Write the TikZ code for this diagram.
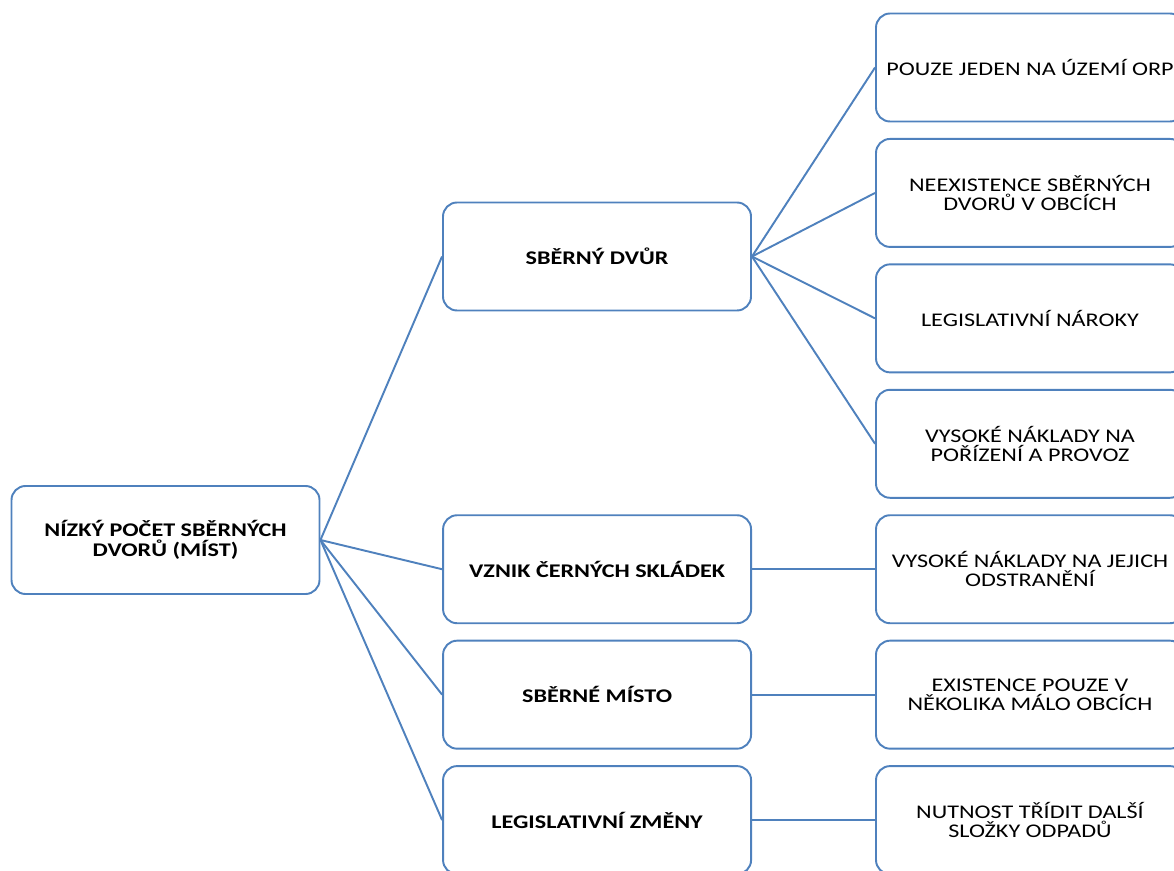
\documentclass[tikz,border=0pt]{standalone}
\usepackage{fontspec}
\setmainfont{Carlito}[FakeStretch=1.25]
\usetikzlibrary{positioning}
\definecolor{boxblue}{RGB}{79,129,189}

\begin{document}
\begin{tikzpicture}[
    node distance=0.31cm and 2.46cm,
    box/.style={draw=boxblue, line width=1.1pt, rounded corners=8pt, align=center, minimum height=2.16cm, minimum width=6.16cm, font=\fontsize{11}{11}\selectfont},
    mainbox/.style={box, font=\fontsize{11}{11}\selectfont\bfseries},
    link/.style={draw=boxblue, line width=1.1pt}
  ]
    \useasboundingbox (0,0) rectangle (23.48,-17.42);
    \begin{scope}
    \clip (0,0) rectangle (23.48,-17.42);
    % root
    \node[mainbox] (root) at (3.31,-10.8) {NÍZKÝ POČET SBĚRNÝCH\\DVORŮ (MÍST)};

    % right column
    \node[box] (orp) at (20.6,-1.35) {POUZE JEDEN NA ÚZEMÍ ORP};
    \node[box, below=of orp] (obce) {NEEXISTENCE SBĚRNÝCH\\DVORŮ V OBCÍCH};
    \node[box, below=of obce] (naroky) {LEGISLATIVNÍ NÁROKY};
    \node[box, below=of naroky] (naklady) {VYSOKÉ NÁKLADY NA\\POŘÍZENÍ A PROVOZ};
    \node[box, below=of naklady] (odstr) {VYSOKÉ NÁKLADY NA JEJICH\\ODSTRANĚNÍ};
    \node[box, below=of odstr] (existence) {EXISTENCE POUZE V\\NĚKOLIKA MÁLO OBCÍCH};
    \node[box, below=of existence] (tridit) {NUTNOST TŘÍDIT DALŠÍ\\SLOŽKY ODPADŮ};

    % middle column
    \node[mainbox] (dvur) at (11.94,-5.13) {SBĚRNÝ DVŮR};
    \node[mainbox, left=of odstr] (skladky) {VZNIK ČERNÝCH SKLÁDEK};
    \node[mainbox, left=of existence] (misto) {SBĚRNÉ MÍSTO};
    \node[mainbox, left=of tridit] (zmeny) {LEGISLATIVNÍ ZMĚNY};

    \draw[link] (root.east) -- (dvur.west);
    \draw[link] (root.east) -- (skladky.west);
    \draw[link] (root.east) -- (misto.west);
    \draw[link] (root.east) -- (zmeny.west);

    \draw[link] (dvur.east) -- (orp.west);
    \draw[link] (dvur.east) -- (obce.west);
    \draw[link] (dvur.east) -- (naroky.west);
    \draw[link] (dvur.east) -- (naklady.west);
    \draw[link] (skladky) -- (odstr);
    \draw[link] (misto) -- (existence);
    \draw[link] (zmeny) -- (tridit);
    \end{scope}
  \end{tikzpicture}
\end{document}
